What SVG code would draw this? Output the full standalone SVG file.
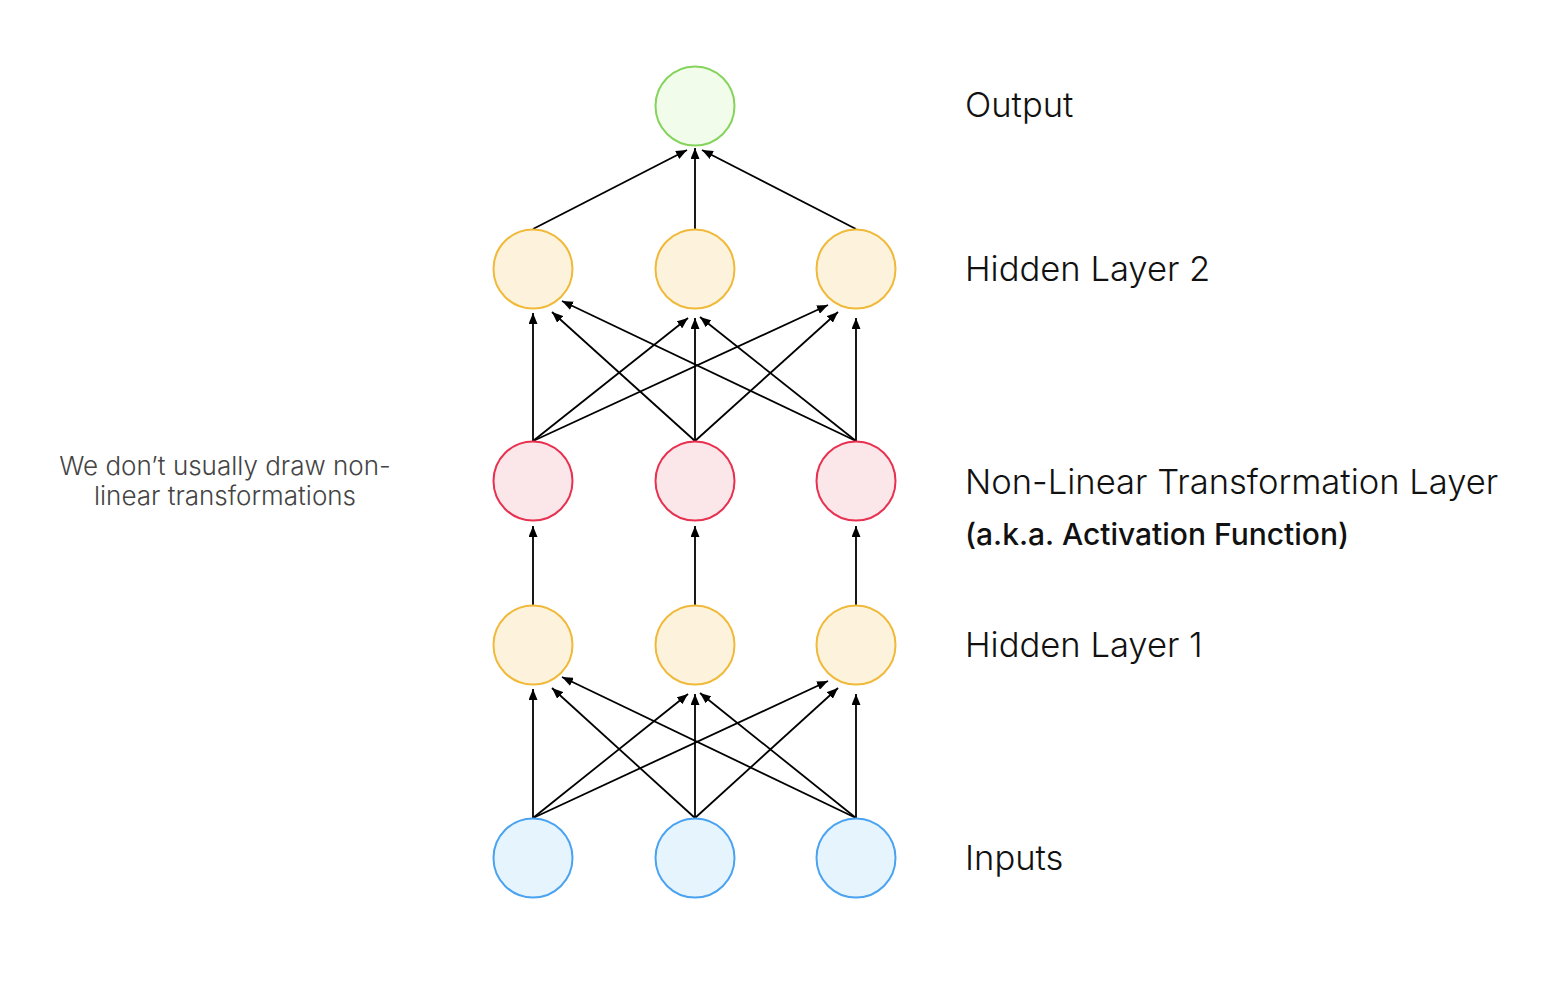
<svg xmlns="http://www.w3.org/2000/svg" width="1542" height="992" viewBox="0 0 1542 992">
<defs>
<marker id="ah" viewBox="0 0 11 9" refX="11" refY="4.5" markerWidth="11" markerHeight="9" markerUnits="userSpaceOnUse" orient="auto">
<path d="M0,0 L11,4.5 L0,9 z" fill="#000"/>
</marker>
<style>
.e{stroke:#000;stroke-width:1.8;fill:none;marker-end:url(#ah)}
.out{fill:#f1fcea;stroke:#84d45c;stroke-width:2}
.hid{fill:#fdf3dc;stroke:#f0b93a;stroke-width:2}
.nl{fill:#fbe6ea;stroke:#e8304f;stroke-width:2}
.inp{fill:#e6f4fd;stroke:#4aa3f0;stroke-width:2}
.lbl{font-family:Inter,"Noto Sans",sans-serif;font-size:34.6px;font-weight:300;fill:#111}
.sub{font-family:Inter,"Noto Sans",sans-serif;font-size:30px;font-weight:500;fill:#111}
.note{font-family:Inter,"Noto Sans",sans-serif;font-size:26px;font-weight:300;fill:#444;text-anchor:middle}
</style>
</defs>
<rect width="1542" height="992" fill="#fff"/>
<g id="connectors">
<line class="e" x1="533" y1="229" x2="687" y2="150"/>
<line class="e" x1="695" y1="229" x2="695" y2="148"/>
<line class="e" x1="856" y1="229" x2="702" y2="150"/>
<line class="e" x1="533" y1="441" x2="533" y2="313"/>
<line class="e" x1="533" y1="441" x2="688" y2="318"/>
<line class="e" x1="533" y1="441" x2="828" y2="305"/>
<line class="e" x1="695" y1="441" x2="552" y2="312"/>
<line class="e" x1="695" y1="441" x2="695" y2="318"/>
<line class="e" x1="695" y1="441" x2="838" y2="312"/>
<line class="e" x1="856" y1="441" x2="562" y2="301"/>
<line class="e" x1="856" y1="441" x2="700" y2="317"/>
<line class="e" x1="856" y1="441" x2="856" y2="318"/>
<line class="e" x1="533" y1="606" x2="533" y2="526"/>
<line class="e" x1="695" y1="606" x2="695" y2="526"/>
<line class="e" x1="856" y1="606" x2="856" y2="526"/>
<line class="e" x1="533" y1="818" x2="533" y2="689"/>
<line class="e" x1="533" y1="818" x2="688" y2="694"/>
<line class="e" x1="533" y1="818" x2="828" y2="681"/>
<line class="e" x1="695" y1="818" x2="552" y2="688"/>
<line class="e" x1="695" y1="818" x2="695" y2="694"/>
<line class="e" x1="695" y1="818" x2="838" y2="688"/>
<line class="e" x1="856" y1="818" x2="562" y2="677"/>
<line class="e" x1="856" y1="818" x2="700" y2="693"/>
<line class="e" x1="856" y1="818" x2="856" y2="694"/>
</g>
<g id="output"><circle class="out" cx="695" cy="106" r="39.5"/></g>
<g id="h2a"><circle class="hid" cx="533" cy="269" r="39.5"/></g>
<g id="h2b"><circle class="hid" cx="695" cy="269" r="39.5"/></g>
<g id="h2c"><circle class="hid" cx="856" cy="269" r="39.5"/></g>
<g id="nla"><circle class="nl" cx="533" cy="481" r="39.5"/></g>
<g id="nlb"><circle class="nl" cx="695" cy="481" r="39.5"/></g>
<g id="nlc"><circle class="nl" cx="856" cy="481" r="39.5"/></g>
<g id="h1a"><circle class="hid" cx="533" cy="645" r="39.5"/></g>
<g id="h1b"><circle class="hid" cx="695" cy="645" r="39.5"/></g>
<g id="h1c"><circle class="hid" cx="856" cy="645" r="39.5"/></g>
<g id="ina"><circle class="inp" cx="533" cy="858" r="39.5"/></g>
<g id="inb"><circle class="inp" cx="695" cy="858" r="39.5"/></g>
<g id="inc"><circle class="inp" cx="856" cy="858" r="39.5"/></g>
<g id="labels">
<text class="lbl" x="965" y="117">Output</text>
<text class="lbl" x="965" y="281">Hidden Layer 2</text>
<text class="lbl" x="965" y="494">Non-Linear Transformation Layer</text>
<text class="sub" x="965" y="545">(a.k.a. Activation Function)</text>
<text class="lbl" x="965" y="657">Hidden Layer 1</text>
<text class="lbl" x="965" y="870">Inputs</text>
</g>
<g id="note">
<text class="note" x="225" y="475">We don’t usually draw non-</text>
<text class="note" x="225" y="505">linear transformations</text>
</g>
</svg>
